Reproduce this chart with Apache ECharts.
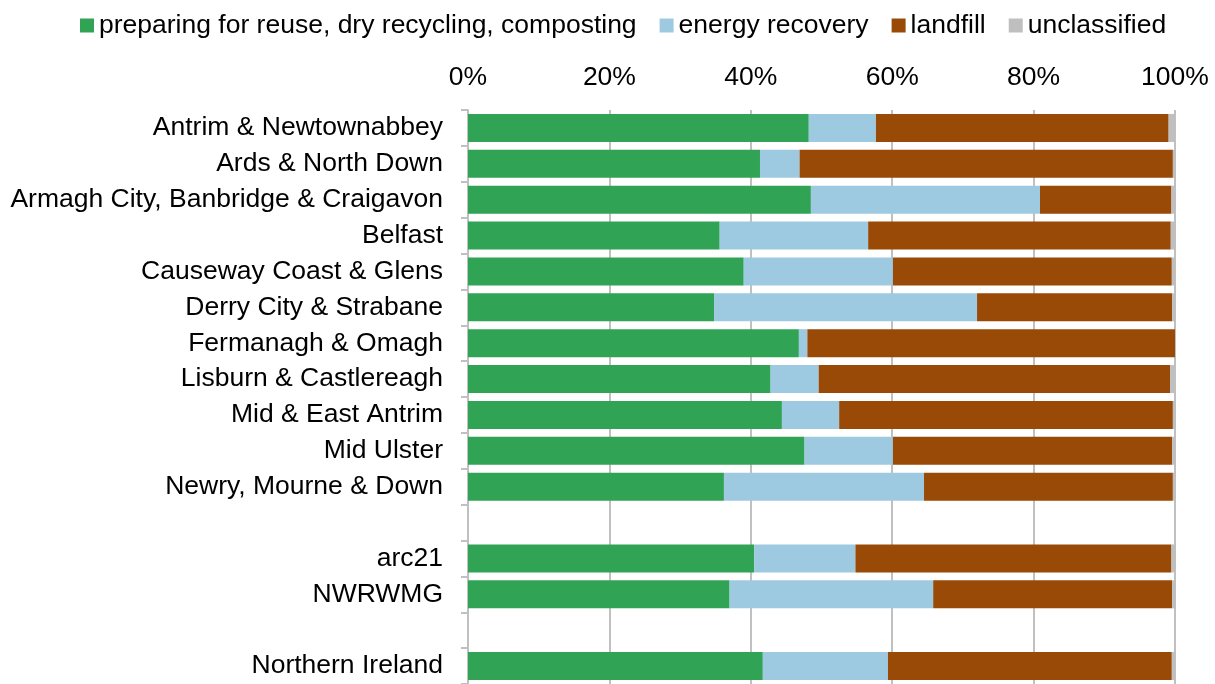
<!DOCTYPE html>
<html>
<head>
<meta charset="utf-8">
<script src="https://cdn.jsdelivr.net/npm/echarts@6/dist/echarts.min.js"></script>
<style>html,body{margin:0;padding:0;background:#fff}#c{width:1215px;height:684px}</style>
</head>
<body>
<div id="c"></div>
<script>
var categories = ['Antrim & Newtownabbey','Ards & North Down','Armagh City, Banbridge & Craigavon','Belfast','Causeway Coast & Glens','Derry City & Strabane','Fermanagh & Omagh','Lisburn & Castlereagh','Mid & East Antrim','Mid Ulster','Newry, Mourne & Down',' ','arc21','NWRWMG','  ','Northern Ireland'];
var recycling = [48.2,41.3,48.5,35.6,39.0,34.8,46.8,42.8,44.4,47.6,36.2,null,40.5,37.0,null,41.7];
var energy = [9.5,5.6,32.4,21.0,21.1,37.2,1.2,6.8,8.1,12.5,28.3,null,14.3,28.8,null,17.7];
var landfill = [41.4,52.8,18.6,42.8,39.45,27.6,52.0,49.7,47.2,39.5,35.2,null,44.7,33.8,null,40.15];
var unclassified = [0.9,0.3,0.5,0.6,0.45,0.4,0.0,0.7,0.3,0.4,0.3,null,0.5,0.4,null,0.45];
var xTicks = [0,20,40,60,80,100];

var font = 'Liberation Sans, Arial, sans-serif';
var fs = 26.5;
var chart = echarts.init(document.getElementById('c'), null, {renderer:'canvas'});
function s(name, data, color){
  return {name:name, type:'bar', stack:'t', data:data, barWidth:28,
    itemStyle:{color:color}, emphasis:{disabled:true}};
}
chart.setOption({
  animation:false,
  textStyle:{fontFamily:font},
  legend:{top:7, left:75, itemWidth:14, itemHeight:14, itemGap:23,
    icon:'rect',
    textStyle:{fontFamily:font, fontSize:fs, color:'#000', padding:[0,0,0,0]},
    data:['preparing for reuse, dry recycling, composting','energy recovery','landfill','unclassified']},
  grid:{left:468, right:40, top:110, bottom:-4, containLabel:false},
  xAxis:{type:'value', position:'top', min:0, max:100, interval:20,
    axisLine:{show:false}, axisTick:{show:false},
    axisLabel:{formatter:function(v){return v+'%';}, fontSize:fs, color:'#000', fontFamily:font, margin:19},
    splitLine:{show:true, lineStyle:{color:'#c0c0c0', width:2}}},
  yAxis:{type:'category', inverse:true, data:categories,
    axisLine:{show:true, lineStyle:{color:'#c0c0c0', width:2}},
    axisTick:{show:true, length:7, lineStyle:{color:'#c0c0c0', width:2}},
    axisLabel:{fontSize:fs, color:'#000', fontFamily:font, margin:25}},
  series:[
    s('preparing for reuse, dry recycling, composting', recycling, '#31a354'),
    s('energy recovery', energy, '#9ecae1'),
    s('landfill', landfill, '#994a07'),
    s('unclassified', unclassified, '#bfbfbf')
  ]
});
</script>
</body>
</html>
